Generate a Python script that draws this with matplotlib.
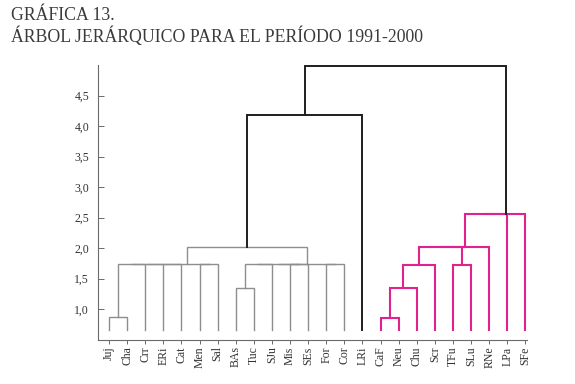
import matplotlib
matplotlib.use("Agg")
import matplotlib.pyplot as plt

# leaves in dendrogram order
leaves = ["Juj", "Cha", "Crr", "ERi", "Cat", "Men", "Sal", "BAs", "Tuc", "SJu",
          "Mis", "SEs", "For", "Cor", "LRi", "CaF", "Neu", "Chu", "Scr", "TFu",
          "SLu", "RNe", "LPa", "SFe"]

# merges: (node a, node b, height); new node ids start at len(leaves)
merge_a = [0, 24, 25, 26, 5, 27, 7, 30, 10, 31, 12, 33, 29, 36,
           15, 38, 39, 19, 40, 42, 43, 44, 37]
merge_b = [1, 2, 3, 4, 6, 28, 8, 9, 11, 32, 13, 34, 35, 14,
           16, 17, 18, 20, 41, 21, 22, 23, 45]
merge_h = [0.87, 1.74, 1.74, 1.74, 1.74, 1.74, 1.34, 1.74, 1.74, 1.74, 1.74, 1.74, 2.02, 4.18,
           0.86, 1.34, 1.72, 1.72, 2.01, 2.01, 2.55, 2.55, 4.99]
merge_group = ["g"] * 13 + ["k"] + ["m"] * 8 + ["k"]

leaf_base = 0.65
yticks = [1.0, 1.5, 2.0, 2.5, 3.0, 3.5, 4.0, 4.5]

colors = {"g": "#8e8e8e", "k": "#1e1e1e", "m": "#e2228c"}
widths = {"g": 1.0, "k": 1.4, "m": 1.5}

serif = "Liberation Serif"
plt.rcParams["font.family"] = serif

fig = plt.figure(figsize=(5.75, 3.84), dpi=100)
ax = fig.add_axes([97.5 / 575, 1 - 339.5 / 384, (527 - 97.5) / 575, (339.5 - 65) / 384])

xpos = {i: float(i) for i in range(len(leaves))}
ypos = {i: leaf_base for i in range(len(leaves))}

for k, (a, b, h, g) in enumerate(zip(merge_a, merge_b, merge_h, merge_group)):
    node = len(leaves) + k
    xa, xb = xpos[a], xpos[b]
    ax.plot([xa, xa, xb, xb], [ypos[a], h, h, ypos[b]], color=colors[g],
            lw=widths[g], solid_joinstyle="miter", clip_on=False)
    xpos[node] = (xa + xb) / 2
    ypos[node] = h

ax.set_xlim(-0.635, 23.09)
ax.set_ylim(0.5, 5.0)

for s in ["top", "right"]:
    ax.spines[s].set_visible(False)
for s in ["left", "bottom"]:
    ax.spines[s].set_color("#6a6a6a")
    ax.spines[s].set_linewidth(0.8)

ax.set_xticks(range(len(leaves)))
ax.set_xticklabels(leaves, rotation=90, fontsize=8.5, color="#333333")
ax.set_yticks(yticks)
ax.set_yticklabels([f"{v:.1f}".replace(".", ",") for v in yticks], fontsize=8.5, color="#333333")
ax.tick_params(axis="x", direction="out", length=3, width=0.7, color="#6a6a6a", pad=2)
ax.tick_params(axis="y", direction="in", length=4.5, width=0.7, color="#6a6a6a", pad=6)

fig.text(11 / 575, 1 - 19.5 / 384, "GRÁFICA 13.", fontsize=12.8, color="#3a3a3a",
         va="baseline", ha="left")
fig.text(11 / 575, 1 - 42 / 384, "ÁRBOL JERÁRQUICO PARA EL PERÍODO 1991-2000", fontsize=12.8,
         color="#3a3a3a", va="baseline", ha="left")

fig.savefig("out.png", dpi=100)
